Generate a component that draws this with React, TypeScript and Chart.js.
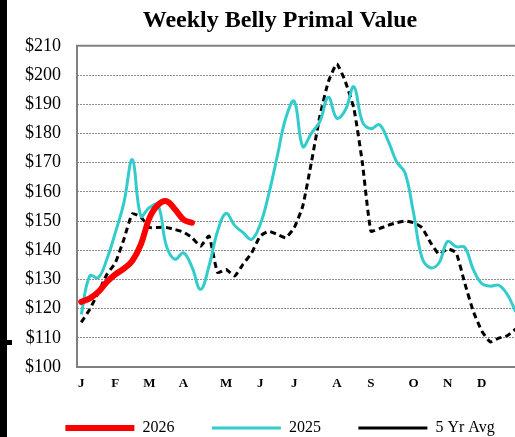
import React, { useEffect, useRef } from 'react';
import { Chart, registerables } from 'chart.js';

Chart.register(...registerables);

const titleText = 'Weekly Belly Primal Value';
const monthLetters = ['J', 'F', 'M', 'A', 'M', 'J', 'J', 'A', 'S', 'O', 'N', 'D'];
const monthStartWeeks = [0, 4, 8, 12, 17, 21, 25, 30, 34, 39, 43, 47];
const weekCount = 52;

const yMin = 100;
const yMax = 210;
const yStep = 10;

const label2026 = '2026';
const label2025 = '2025';
const labelAvg = '5 Yr Avg';

const values2026 = [122.3, 123.5, 125.7, 129.1, 131.7, 133.7, 136.4, 142, 151, 155.5, 156.8, 154, 150.5, 149.4];

const values2025 = [
  118, 131.2, 130.6, 136.9, 146, 156.2, 171, 151.7, 154.6, 155.6,
  141.4, 136.9, 139.1, 134.2, 126.6, 134.6, 146.5, 152.6, 148.5, 146,
  143.7, 148.8, 159.1, 172.1, 185.2, 191, 175.5, 180, 184, 192.4,
  185.2, 188, 196, 184, 181.6, 183, 177.6, 170.4, 166.5, 152.8,
  137.4, 134, 135.7, 143, 141.2, 141, 133.5, 128.6, 127.7, 128,
  124.9, 118.9,
];

const valuesAvg = [
  115.3, 119.8, 125.5, 131.7, 135.7, 143.7, 152.5, 151.3, 147.8, 147.8,
  147.8, 147.1, 146.2, 144.3, 141.4, 144.8, 132.3, 133.4, 131.2, 135.2,
  139.1, 144.8, 146.5, 145.4, 144.3, 147.7, 155.1, 169.9, 185.8, 197.7,
  203.8, 197.7, 188.6, 169.9, 146.5, 147.4, 148.5, 149.4, 150, 149.4,
  147.7, 142.6, 138.6, 140.5, 139.1, 128.9, 119.2, 112.4, 108.6, 109.9,
  110.7, 113,
];

const serif = "'Liberation Serif', 'Times New Roman', serif";

const framePlugin = {
  id: 'plotFrame',
  afterDatasetsDraw(chart: any) {
    const { ctx, chartArea } = chart;
    ctx.save();
    ctx.strokeStyle = '#808080';
    ctx.lineWidth = 2;
    ctx.setLineDash([]);
    ctx.beginPath();
    ctx.moveTo(chartArea.right + 5, chartArea.top);
    ctx.lineTo(chartArea.left, chartArea.top);
    ctx.lineTo(chartArea.left, chartArea.bottom);
    ctx.lineTo(chartArea.right + 5, chartArea.bottom);
    ctx.stroke();
    ctx.restore();
  },
};

export default function App() {
  const canvasRef = useRef<HTMLCanvasElement | null>(null);

  useEffect(() => {
    if (!canvasRef.current) return;
    const weekLabels = Array.from({ length: weekCount }, (_, i) => {
      const k = monthStartWeeks.indexOf(i);
      return k >= 0 ? monthLetters[k] : '';
    });

    const chart = new Chart(canvasRef.current, {
      type: 'line',
      data: {
        labels: weekLabels,
        datasets: [
          {
            label: label2026,
            data: values2026,
            borderColor: '#FF0000',
            backgroundColor: '#FF0000',
            borderWidth: 6,
            borderCapStyle: 'round',
            borderJoinStyle: 'round',
            pointRadius: 0,
            tension: 0.4,
            fill: false,
          },
          {
            label: label2025,
            data: values2025,
            borderColor: '#33CCCC',
            backgroundColor: '#33CCCC',
            borderWidth: 3,
            pointRadius: 0,
            tension: 0.4,
            fill: false,
          },
          {
            label: labelAvg,
            data: valuesAvg,
            borderColor: '#000000',
            backgroundColor: '#000000',
            borderWidth: 3,
            borderDash: [6, 4],
            pointRadius: 0,
            tension: 0.15,
            fill: false,
          },
        ],
      },
      options: {
        responsive: false,
        maintainAspectRatio: false,
        animation: false,
        events: [],
        layout: { padding: { left: 20, right: 0, top: 0, bottom: 0 } },
        plugins: {
          title: {
            display: true,
            text: titleText,
            color: '#000',
            font: { family: serif, size: 24, weight: 'bold' },
            padding: { top: 6, bottom: 11 },
          },
          legend: {
            position: 'bottom',
            labels: {
              usePointStyle: true,
              pointStyle: 'line',
              pointStyleWidth: 69,
              padding: 37.5,
              color: '#000',
              font: { family: serif, size: 16 },
            },
          },
          tooltip: { enabled: false },
        },
        scales: {
          x: {
            type: 'category',
            offset: true,
            grid: { display: false, drawTicks: false },
            border: { display: false },
            ticks: {
              autoSkip: false,
              maxRotation: 0,
              minRotation: 0,
              mirror: true,
              padding: -24,
              color: '#000',
              font: { family: serif, size: 13, weight: 'bold' },
            },
            afterFit: (scale: any) => {
              scale.height = 15.5;
            },
          },
          y: {
            min: yMin,
            max: yMax,
            ticks: {
              stepSize: yStep,
              padding: 16,
              color: '#000',
              font: { family: serif, size: 18 },
              callback: (v: any) => '$' + v,
            },
            grid: { color: '#8c8c8c', lineWidth: 1, drawTicks: false },
            border: { display: false, dash: [2, 1] },
            afterFit: (scale: any) => {
              scale.width = 57;
            },
          },
          yRightSpacer: {
            type: 'linear',
            position: 'right',
            display: true,
            grid: { display: false, drawTicks: false },
            border: { display: false },
            ticks: { display: false },
            afterFit: (scale: any) => {
              scale.width = 20;
            },
          },
        },
      },
      plugins: [framePlugin],
    } as any);

    return () => chart.destroy();
  }, []);

  return (
    <div
      style={{
        position: 'absolute',
        left: 0,
        top: 0,
        width: 515,
        height: 437,
        overflow: 'hidden',
        background: '#ffffff',
      }}
    >
      <canvas ref={canvasRef} width={540} height={446} style={{ display: 'block', width: 540, height: 446 }} />
      <div style={{ position: 'absolute', left: 0, top: 0, width: 7, height: 437, background: '#000' }} />
      <div style={{ position: 'absolute', left: 7, top: 340, width: 5, height: 5, background: '#000' }} />
    </div>
  );
}
